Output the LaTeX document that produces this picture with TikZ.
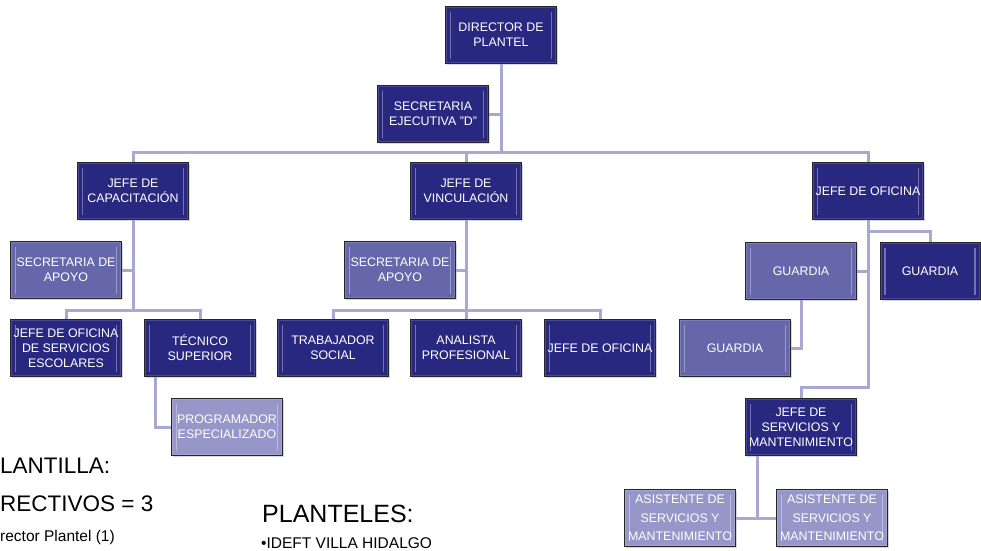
\documentclass[tikz,border=0pt]{standalone}
\usepackage{fontspec}
\setmainfont{Liberation Sans}
\usetikzlibrary{shadows}

\definecolor{puestooscuro}{RGB}{40,40,128}
\definecolor{puestomedio}{RGB}{102,102,170}
\definecolor{puestoclaro}{RGB}{150,150,200}
\definecolor{colorenlace}{RGB}{168,168,212}

\begin{document}
\begin{tikzpicture}[x=1pt, y=-1pt,
    puesto/.style={draw=black!85, line width=0.9pt, minimum width=111pt, minimum height=57pt,
      inner sep=1pt, align=center, text=white, font=\fontsize{12.4}{15}\selectfont,
      drop shadow={shadow xshift=1.5pt, shadow yshift=-1.5pt, opacity=.3},
      path picture={
        \draw[white, opacity=.35, line width=1.2pt]
          ([shift={(5pt,-5pt)}]path picture bounding box.north west) -- ([shift={(5pt,5pt)}]path picture bounding box.south west)
          ([shift={(-5pt,-5pt)}]path picture bounding box.north east) -- ([shift={(-5pt,5pt)}]path picture bounding box.south east);
        \draw[white, opacity=.15, line width=3pt]
          (path picture bounding box.north west) rectangle (path picture bounding box.south east);
      }},
    oscuro/.style={puesto, fill=puestooscuro},
    medio/.style={puesto, fill=puestomedio},
    claro/.style={puesto, fill=puestoclaro},
    triple/.style={font=\fontsize{12.4}{18.5}\selectfont},
    enlace/.style={draw=colorenlace, line width=3pt},
    nota/.style={anchor=base west, inner sep=0pt, text=black}]
  \useasboundingbox (0,0) rectangle (981,550);
  \fill[white] (0,0) rectangle (981,550);
  \clip (0,0) rectangle (981,550);

  \node[oscuro] (dir) at (501,35) {DIRECTOR DE\\PLANTEL};
  \node[oscuro] (sece) at (433,114) {SECRETARIA\\EJECUTIVA "D"};
  \node[oscuro] (cap) at (133,191) {JEFE DE\\CAPACITACIÓN};
  \node[oscuro] (vin) at (466,191) {JEFE DE\\VINCULACIÓN};
  \node[oscuro] (ofi) at (868,191) {JEFE DE OFICINA};
  \node[medio] (sa1) at (66,270) {SECRETARIA DE\\APOYO};
  \node[oscuro] (jos) at (66,348) {JEFE DE OFICINA\\DE SERVICIOS\\ESCOLARES};
  \node[oscuro] (tec) at (200,348) {TÉCNICO\\SUPERIOR};
  \node[claro] (prog) at (227,427) {PROGRAMADOR\\ESPECIALIZADO};
  \node[medio] (sa2) at (400,270) {SECRETARIA DE\\APOYO};
  \node[oscuro] (ts) at (333,348) {TRABAJADOR\\SOCIAL};
  \node[oscuro] (ap) at (466,348) {ANALISTA\\PROFESIONAL};
  \node[oscuro] (jo) at (600,348) {JEFE DE OFICINA};
  \node[medio] (g1) at (801,271) {GUARDIA};
  \node[oscuro, minimum width=100pt] (g2) at (930,271) {GUARDIA};
  \node[medio] (g3) at (735,348) {GUARDIA};
  \node[oscuro] (jsm) at (801,427) {JEFE DE\\SERVICIOS Y\\MANTENIMIENTO};
  \node[claro, triple] (as1) at (680,518) {ASISTENTE DE\\SERVICIOS Y\\MANTENIMIENTO};
  \node[claro, triple] (as2) at (832,518) {ASISTENTE DE\\SERVICIOS Y\\MANTENIMIENTO};

  \draw[enlace] (sece.east) -- (sece.east -| dir.south);
  \draw[enlace] (dir.south) -- ++(0,89) -| (cap.north);
  \draw[enlace] (dir.south) -- ++(0,89) -| (vin.north);
  \draw[enlace] (dir.south) -- ++(0,89) -| (ofi.north);
  \draw[enlace] (cap.south) |- (sa1.east);
  \draw[enlace] (cap.south) -- ++(0,91) -| (jos.north);
  \draw[enlace] (cap.south) -- ++(0,91) -| (tec.north);
  \draw[enlace] ([xshift=11.5pt]tec.south west) |- (prog.west);
  \draw[enlace] (vin.south) |- (sa2.east);
  \draw[enlace] (vin.south) -- ++(0,91) -| (ts.north);
  \draw[enlace] (vin.south) -- ++(0,91) -| (ap.north);
  \draw[enlace] (vin.south) -- ++(0,91) -| (jo.north);
  \draw[enlace] (ofi.south) |- (g1.east);
  \draw[enlace] (ofi.south) -- ++(0,12) -| (g2.north);
  \draw[enlace] (g1.south) |- (g3.east);
  \draw[enlace] (ofi.south) -- ++(0,168) -| (jsm.north);
  \draw[enlace] ([xshift=12pt]jsm.south west) |- (as1.east);
  \draw[enlace] ([xshift=12pt]jsm.south west) |- (as2.west);

  \node[nota, font=\fontsize{22.5}{27}\selectfont] (plant) at (0,473) {LANTILLA:};
  \node[nota, font=\fontsize{22.5}{27}\selectfont] (direc) at (0,511) {RECTIVOS = 3};
  \node[nota, font=\fontsize{15.5}{18}\selectfont] (dirpl) at (0,541) {rector Plantel (1)};
  \node[nota, font=\fontsize{25}{30}\selectfont] (plan) at (262,522) {PLANTELES:};
  \node[nota, font=\fontsize{15.5}{18}\selectfont] (idef) at (261,548) {•IDEFT VILLA HIDALGO};
\end{tikzpicture}
\end{document}
